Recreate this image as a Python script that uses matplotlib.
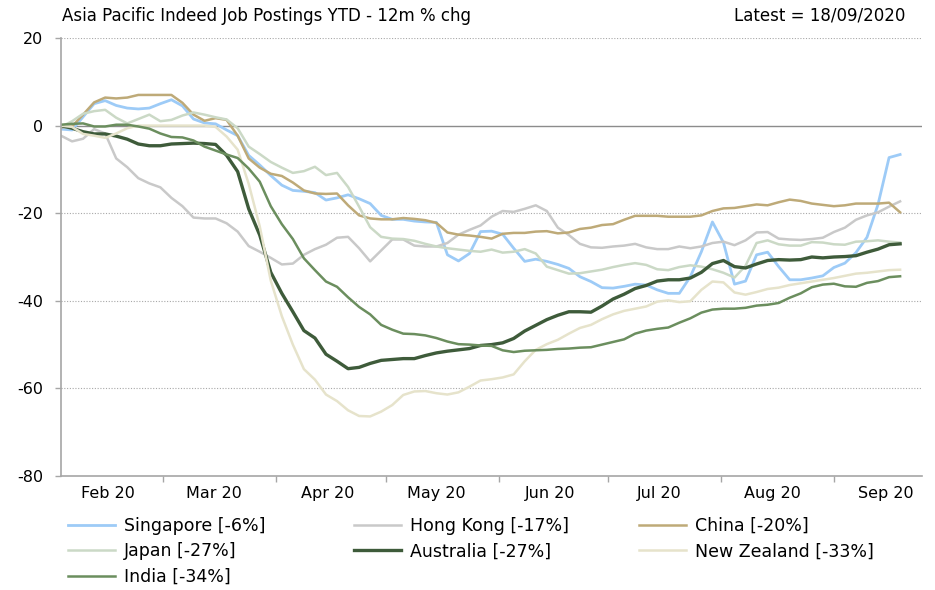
#Bibliotecas
import numpy as np
import pandas as pd
import matplotlib
matplotlib.use('Agg')
import matplotlib.pyplot as plt
import matplotlib.dates as mdates

#----------------------------------------------------------------------------------------
#       Indeed job postings, Asia Pacific, 12m % chg (YTD)
#----------------------------------------------------------------------------------------
# datas (grade de ~3 dias)
datas = pd.date_range('2020-02-02', '2020-09-19', periods=77)

singapore = [-0.8, -1, 2, 5, 5.7, 4.6, 4, 3.8, 4, 5, 5.9, 4.5, 1.5, 0.6, 0.4, -1,
             -2.3, -6.8, -9, -11.4, -13.6, -14.8, -15, -15.3, -17, -16.5, -15.8, -16.7, -17.8, -20.5, -21.4, -21.4,
             -21.8, -22, -22.1, -29.5, -30.9, -29.2, -24.2, -24.1, -24.8, -28, -31, -30.5, -31, -31.7, -32.6,
             -34.5, -35.6, -37, -37.1, -36.7, -36.2, -36.4, -37.5, -38.3, -38.3, -34.5, -28.8, -22, -26.7, -36.2,
             -35.5, -29.5, -28.9, -32.2, -35.2, -35.2, -34.8, -34.3, -32.4, -31.4, -29, -25.5, -18, -7.3, -6.6]
hong_kong = [-2.3, -3.6, -3, -0.8, -1.8, -7.5, -9.5, -12, -13.2, -14.1, -16.5, -18.4, -21, -21.2, -21.2, -22.3,
             -24.2, -27.5, -28.8, -30.2, -31.7, -31.5, -29.5, -28.2, -27.2, -25.6, -25.4, -28, -31, -28.5, -26, -26,
             -27.4, -27.6, -27.6, -26.8, -24.9, -23.8, -22.8, -20.8, -19.5, -19.7, -19, -18.2, -19.5, -23.3, -25,
             -27, -27.8, -27.9, -27.6, -27.4, -27, -27.8, -28.2, -28.2, -27.6, -28, -27.6, -26.8, -26.5, -27.3,
             -26.2, -24.4, -24.3, -25.8, -26, -26.1, -25.9, -25.6, -24.3, -23.3, -21.5, -20.5, -19.8, -18.5, -17.3]
china = [-0.4, -0.2, 2.5, 5.3, 6.4, 6.2, 6.4, 7, 7, 7, 7, 5.2, 2.5, 1.1, 1.7, 1.3,
         -2.3, -7.5, -9.6, -11, -11.5, -13, -14.8, -15.5, -15.6, -15.5, -18.2, -20.5, -21.2, -21.4, -21.4, -21.1,
         -21.3, -21.6, -22.2, -24.4, -24.9, -25.1, -25.4, -25.8, -24.7, -24.5, -24.5, -24.2, -24.1, -24.6, -24.4,
         -23.6, -23.3, -22.7, -22.5, -21.5, -20.6, -20.6, -20.6, -20.8, -20.8, -20.8, -20.5, -19.5, -18.9, -18.8,
         -18.4, -18, -18.2, -17.5, -16.9, -17.2, -17.8, -18.1, -18.4, -18.2, -17.8, -17.8, -17.8, -17.6, -19.8]
japan = [-0.3, 1, 2.7, 3.3, 3.6, 1.8, 0.5, 1.5, 2.5, 1, 1.3, 2.3, 3, 2.5, 1.9, 1.4,
         -0.6, -4.8, -6.5, -8.3, -9.6, -10.8, -10.4, -9.4, -11.3, -10.8, -14, -18.5, -23.2, -25.4, -25.8, -25.9,
         -26.3, -27, -27.6, -28, -28.3, -28.6, -28.8, -28.3, -29, -28.8, -28.2, -29.2, -32.2, -33, -33.8,
         -33.7, -33.3, -32.9, -32.3, -31.8, -31.4, -31.8, -32.8, -33, -32.3, -31.9, -32.2, -32.8, -33.6, -34.7,
         -32, -26.8, -26.2, -27.1, -27.4, -27.4, -26.6, -26.7, -27.1, -27.2, -26.5, -26.4, -26.2, -26.5, -26.7]
australia = [0, -0.6, -1.4, -1.9, -1.9, -2.4, -3.1, -4.2, -4.6, -4.6, -4.2, -4.1, -4, -4.1, -4.3, -6.8,
             -10.5, -19, -25, -33.5, -38.3, -42.5, -46.8, -48.5, -52.2, -53.8, -55.5, -55.2, -54.3, -53.6, -53.4, -53.2,
             -53.2, -52.5, -51.9, -51.5, -51.2, -50.9, -50.2, -50, -49.6, -48.6, -46.9, -45.6, -44.3, -43.3, -42.5,
             -42.5, -42.6, -41.2, -39.6, -38.5, -37.2, -36.5, -35.5, -35.2, -35.2, -34.8, -33.5, -31.5, -30.8, -32.2,
             -32.5, -31.6, -30.8, -30.6, -30.7, -30.6, -30, -30.2, -30, -29.9, -29.7, -28.9, -28.2, -27.2, -27]
nova_zelandia = [0, -0.3, -1.9, -2.3, -2.8, -1.8, -0.6, 0, 0, 0, 0, 0, 0, 0, -0.3, -2.5,
                 -5.5, -13.3, -23, -35.4, -43.5, -50, -55.6, -58, -61.4, -62.9, -65, -66.3, -66.4, -65.3, -63.8, -61.5,
                 -60.7, -60.6, -61.1, -61.4, -60.9, -59.6, -58.2, -57.9, -57.5, -56.8, -53.8, -51.2, -49.9, -48.9, -47.5,
                 -46.2, -45.5, -44.2, -43.1, -42.3, -41.8, -41.3, -40.2, -39.9, -40.3, -40.1, -37.5, -35.6, -35.8, -38.1,
                 -38.6, -38, -37.3, -37, -36.4, -36, -35.6, -35.2, -34.8, -34.3, -33.8, -33.6, -33.3, -33, -32.9]
india = [0.2, 0.4, 0.5, -0.2, -0.2, 0.2, 0.2, -0.2, -0.7, -1.8, -2.6, -2.7, -3.4, -4.8, -5.7, -6.6,
         -7.4, -9.8, -12.8, -18.4, -22.5, -25.9, -30.3, -33, -35.6, -36.8, -39.2, -41.4, -43.1, -45.5, -46.6, -47.5,
         -47.6, -47.9, -48.5, -49.3, -49.9, -50, -50.2, -50.3, -51.3, -51.7, -51.4, -51.3, -51.2, -51, -50.9,
         -50.7, -50.6, -50, -49.4, -48.8, -47.5, -46.8, -46.4, -46.1, -45, -44, -42.7, -42, -41.8, -41.8,
         -41.6, -41.1, -40.9, -40.5, -39.3, -38.3, -36.9, -36.3, -36.1, -36.7, -36.8, -35.9, -35.5, -34.6, -34.4]

rotulos = ['Singapore [-6%]', 'Hong Kong [-17%]', 'China [-20%]', 'Japan [-27%]',
           'Australia [-27%]', 'New Zealand [-33%]', 'India [-34%]']
cores = ['#9DCBF7', '#C9C9C9', '#BEAA78', '#CBD9C6', '#3E5B3A', '#E6E3CB', '#6B8E5E']
larguras = [2.0, 1.8, 1.8, 1.8, 2.4, 1.8, 1.8]
series = [singapore, hong_kong, china, japan, australia, nova_zelandia, india]

plt.rcParams['font.family'] = 'DejaVu Sans'
plt.rcParams['axes.unicode_minus'] = False
fig = plt.figure(figsize=(9.35, 5.9), dpi=100)
ax = fig.add_axes([61/935, 1-476/590, (922-61)/935, (476-38)/590])

# linhas de grade
for g in [20, -20, -40, -60]:
    ax.axhline(g, color='#A8A8A8', lw=0.8, ls=(0, (1, 1.5)), zorder=0)
ax.axhline(0, color='#8C8C8C', lw=1.0, zorder=0)

linhas = []
for s, c, w, r in zip(series, cores, larguras, rotulos):
    l, = ax.plot(datas, s, color=c, lw=w, label=r, solid_joinstyle='round')
    linhas.append(l)

ax.set_ylim(-80, 20)
ax.set_xlim(pd.Timestamp('2020-02-02'), pd.Timestamp('2020-09-25'))
ax.set_yticks([20, 0, -20, -40, -60, -80])

for lado in ['top', 'right']:
    ax.spines[lado].set_visible(False)
for lado in ['left', 'bottom']:
    ax.spines[lado].set_color('#A6A6A6')
    ax.spines[lado].set_linewidth(1.2)

# eixo x: traços no inicio do mes, rotulos no meio
ax.xaxis.set_major_locator(mdates.MonthLocator(bymonthday=1))
ax.xaxis.set_major_formatter(plt.NullFormatter())
ax.xaxis.set_minor_locator(mdates.MonthLocator(bymonthday=15))
ax.xaxis.set_minor_formatter(mdates.DateFormatter('%b %y'))
ax.tick_params(axis='x', which='major', length=4, color='#A6A6A6', width=1)
ax.tick_params(axis='x', which='minor', length=0, pad=7, labelsize=11.5)
ax.tick_params(axis='y', length=4.3, color='#A6A6A6', width=1, pad=8.5, labelsize=11.5)

fig.text(62/935, 1-16/590, 'Asia Pacific Indeed Job Postings YTD - 12m % chg',
         ha='left', va='center', fontsize=12)
fig.text(905/935, 1-16/590, 'Latest = 18/09/2020', ha='right', va='center', fontsize=12)

# legenda em 3 colunas
colunas = [([0, 3, 6], 68), ([1, 4], 354), ([2, 5], 639)]
for idx, xp in colunas:
    fig.legend([linhas[i] for i in idx], [rotulos[i] for i in idx],
               loc='upper left', bbox_to_anchor=(xp/935, 1-517/590),
               frameon=False, fontsize=12.5, handlelength=2.7, handletextpad=0.5,
               labelspacing=0.42, borderpad=0, borderaxespad=0)

plt.savefig('out.png', dpi=100)
